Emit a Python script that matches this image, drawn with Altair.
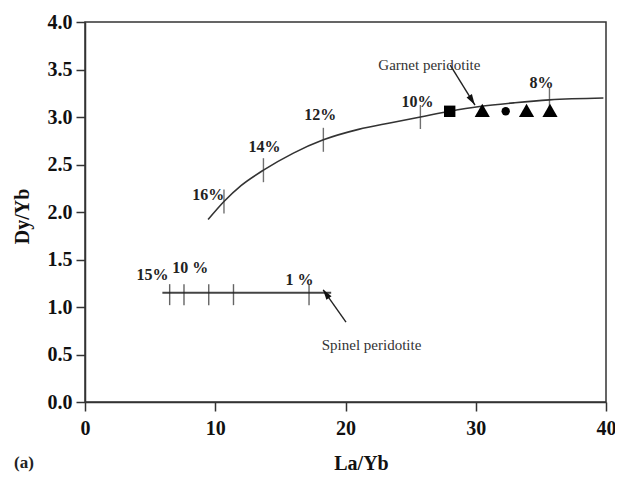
import math
import altair as alt
import pandas as pd

# Garnet peridotite melting curve (La/Yb, Dy/Yb)
curve_x = [9.45, 10.67, 12.0, 13.7, 16.0, 18.3, 21.0, 23.5, 25.75, 28.0, 30.3, 33.0, 35.66, 39.8]
curve_y = [1.92, 2.11, 2.28, 2.44, 2.62, 2.76, 2.87, 2.94, 3.00, 3.06, 3.11, 3.15, 3.18, 3.20]

# Melting-degree ticks on the garnet curve
g_tick_x = [10.67, 13.7, 18.3, 25.75, 35.66]
g_tick_y = [2.11, 2.44, 2.76, 3.00, 3.18]
g_lab = ["16%", "14%", "12%", "10%", "8%"]
g_lab_x = [9.47, 13.79, 18.06, 25.52, 35.05]
g_lab_y = [2.18, 2.68, 3.02, 3.16, 3.36]

# Spinel peridotite melting line
s_line_x = [5.94, 18.9]
s_line_y = [1.15, 1.15]
s_tick_x = [6.5, 7.6, 9.5, 11.4, 17.2]
s_tick_y = [1.13, 1.13, 1.13, 1.13, 1.13]
s_lab = ["15%", "10 %", "1 %"]
s_lab_x = [5.18, 8.08, 16.46]
s_lab_y = [1.34, 1.41, 1.28]

# Samples
samp_x = [28.0, 30.5, 32.3, 33.9, 35.7]
samp_y = [3.06, 3.07, 3.06, 3.07, 3.07]
samp_shape = ["square", "triangle-up", "circle", "triangle-up", "triangle-up"]
samp_size = [130, 230, 70, 230, 230]

# Annotations
ann_text = ["Garnet peridotite", "Spinel peridotite"]
ann_x = [26.44, 22.0]
ann_y = [3.55, 0.60]
arrow_tail_x = [28.04, 20.04]
arrow_tail_y = [3.547, 0.84]
arrow_tip_x = [29.94, 18.29]
arrow_tip_y = [3.126, 1.18]

W, H = 521, 380
XMAX, YMAX = 40, 4

xs = alt.Scale(domain=[0, XMAX], nice=False, zero=False)
ys = alt.Scale(domain=[0, YMAX], nice=False)
xax = alt.Axis(values=[0, 10, 20, 30, 40], format="d", labelFlush=False)
yax = alt.Axis(values=[0, 0.5, 1, 1.5, 2, 2.5, 3, 3.5, 4], format=".1f", labelFlush=False)


def X():
    return alt.X("x:Q", scale=xs, axis=xax, title="La/Yb")


def Y():
    return alt.Y("y:Q", scale=ys, axis=yax, title="Dy/Yb")


curve = alt.Chart(pd.DataFrame({"x": curve_x, "y": curve_y})).mark_line(
    interpolate="monotone", color="#333", strokeWidth=1.6
).encode(x=X(), y=Y())

g_ticks = alt.Chart(pd.DataFrame({"x": g_tick_x, "y": g_tick_y})).mark_tick(
    orient="vertical", size=24, thickness=1.4, color="#333"
).encode(x=X(), y=Y())

g_labels = alt.Chart(pd.DataFrame({"x": g_lab_x, "y": g_lab_y, "t": g_lab})).mark_text(
    font="Liberation Serif", fontWeight="bold", fontSize=16, color="#222",
    align="center", baseline="middle"
).encode(x=X(), y=Y(), text="t:N")

s_line = alt.Chart(pd.DataFrame({"x": s_line_x, "y": s_line_y})).mark_line(
    color="#444", strokeWidth=2
).encode(x=X(), y=Y())

s_ticks = alt.Chart(pd.DataFrame({"x": s_tick_x, "y": s_tick_y})).mark_tick(
    orient="vertical", size=21, thickness=1.4, color="#222"
).encode(x=X(), y=Y())

s_labels = alt.Chart(pd.DataFrame({"x": s_lab_x, "y": s_lab_y, "t": s_lab})).mark_text(
    font="Liberation Serif", fontWeight="bold", fontSize=16, color="#222",
    align="center", baseline="middle"
).encode(x=X(), y=Y(), text="t:N")

samples = alt.Chart(pd.DataFrame({"x": samp_x, "y": samp_y, "shape": samp_shape, "size": samp_size})).mark_point(
    filled=True, color="black", opacity=1
).encode(
    x=X(), y=Y(),
    shape=alt.Shape("shape:N", scale=None),
    size=alt.Size("size:Q", scale=None),
)

ann = alt.Chart(pd.DataFrame({"x": ann_x, "y": ann_y, "t": ann_text})).mark_text(
    font="Liberation Serif", fontSize=15, color="#333", align="center", baseline="middle"
).encode(x=X(), y=Y(), text="t:N")

arrow_rows = []
head_rows = []
for i in range(len(arrow_tip_x)):
    arrow_rows.append({"x": arrow_tail_x[i], "y": arrow_tail_y[i], "g": i, "o": 0})
    arrow_rows.append({"x": arrow_tip_x[i], "y": arrow_tip_y[i], "g": i, "o": 1})
    dxp = (arrow_tip_x[i] - arrow_tail_x[i]) * W / XMAX
    dyp = -(arrow_tip_y[i] - arrow_tail_y[i]) * H / YMAX
    ang = math.degrees(math.atan2(dxp, -dyp)) % 360
    hx = arrow_tip_x[i] + 0.12 * (arrow_tail_x[i] - arrow_tip_x[i])
    hy = arrow_tip_y[i] + 0.12 * (arrow_tail_y[i] - arrow_tip_y[i])
    head_rows.append({"x": hx, "y": hy, "a": ang})

arrows = alt.Chart(pd.DataFrame(arrow_rows)).mark_line(color="#222", strokeWidth=1.4).encode(
    x=X(), y=Y(), detail="g:N", order="o:Q"
)
heads = alt.Chart(pd.DataFrame(head_rows)).mark_point(
    shape="M0,-1L0.6,1L-0.6,1Z", filled=True, color="#111", size=110, opacity=1
).encode(x=X(), y=Y(), angle=alt.Angle("a:Q", scale=None))

panel_tag = alt.Chart(pd.DataFrame({"t": ["(a)"]})).mark_text(
    font="Liberation Serif", fontWeight="bold", fontSize=17, color="#222",
    align="center", baseline="middle"
).encode(x=alt.value(-61), y=alt.value(441), text="t:N")

chart = alt.layer(
    curve, g_ticks, g_labels, s_line, s_ticks, s_labels, arrows, heads, samples, ann, panel_tag
).properties(
    width=W, height=H,
    padding={"left": 77, "top": 14, "right": 9, "bottom": 70},
    autosize=alt.AutoSizeParams(type="none"),
    background="white",
).configure_view(
    stroke="#333", strokeWidth=1.5
).configure_axis(
    grid=False,
    domainColor="#333", domainWidth=1.5,
    tickColor="#333", tickWidth=1.5, tickSize=9,
    labelFont="Liberation Serif", labelFontWeight="bold", labelFontSize=20, labelColor="#111",
    titleFont="Liberation Serif", titleFontWeight="bold", titleFontSize=20, titleColor="#111",
).configure_axisX(
    labelPadding=7, titleX=276, titleY=61, titleBaseline="middle", titleAlign="center"
).configure_axisY(
    labelPadding=4, titleX=-63, titleY=194, titleAngle=270, titleBaseline="middle", titleAlign="center"
)

chart.save("out.html", embed_options={"renderer": "svg", "actions": False})
